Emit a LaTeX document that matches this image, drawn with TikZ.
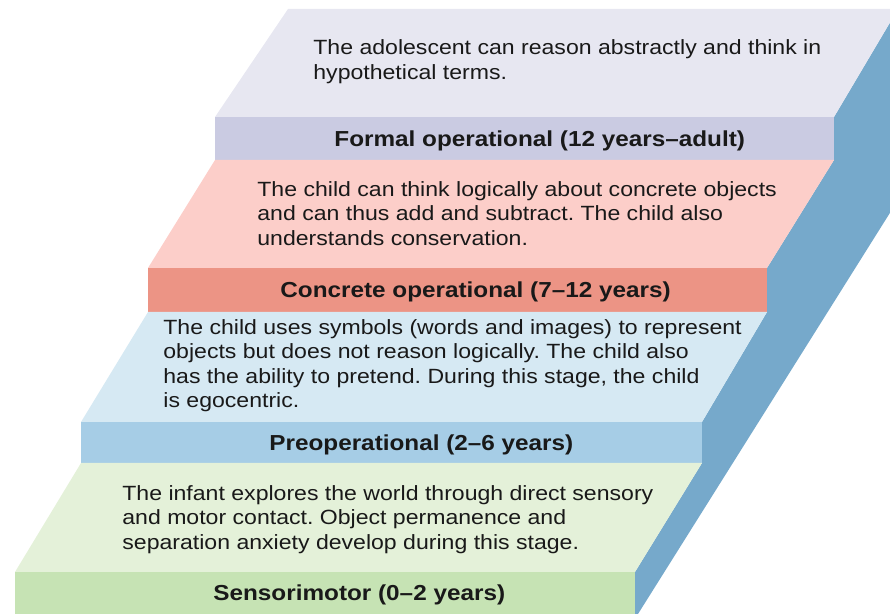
\documentclass[tikz,border=0pt]{standalone}
\usepackage{fontspec}
\setmainfont{Liberation Sans}[FakeStretch=1.12]
\usepackage{tikz}
\usetikzlibrary{positioning}
\usepackage{color}
\frenchspacing

\definecolor{formalface}{RGB}{231,231,241}
\definecolor{formalbar}{RGB}{202,203,226}
\definecolor{concreteface}{RGB}{252,206,201}
\definecolor{concretebar}{RGB}{236,148,133}
\definecolor{preopface}{RGB}{214,233,243}
\definecolor{preopbar}{RGB}{166,205,230}
\definecolor{sensorface}{RGB}{228,241,217}
\definecolor{sensorbar}{RGB}{198,227,180}
\definecolor{sidepanel}{RGB}{118,169,203}
\definecolor{stagetext}{RGB}{25,25,25}

\tikzset{
  stagedesc/.style={anchor=north west, align=left, inner sep=0pt, text=stagetext,
    font=\fontsize{10.3}{12.25}\selectfont},
  stagetitle/.style={anchor=base west, inner sep=0pt, text=stagetext,
    font=\fontsize{10.85}{13}\selectfont\bfseries},
}

\begin{document}
\begin{tikzpicture}[x=0.5pt,y=-0.5pt]
    % frame
    \useasboundingbox (0,0) rectangle (890,614);
    \clip (0,0) rectangle (890,614);

    % side of the stairs
    \fill[sidepanel] (898,9) -- (834,117) -- (834,160) -- (767,268) -- (767,312)
        -- (702,422) -- (702,463) -- (635,572) -- (635,614) -- (638,614)
        -- (1018,9) -- cycle;

    % steps: top face, then front bar
    \foreach \facecol/\barcol/\backl/\backr/\backy/\frontl/\frontr/\fronty/\lowy in {
        formalface/formalbar/288/898/9/215/834/117/160,
        concreteface/concretebar/215/834/160/148/767/268/312,
        preopface/preopbar/148/767/312/81/702/422/463,
        sensorface/sensorbar/81/702/463/15/635/572/614}
    {
      \fill[\facecol] (\backl,\backy) -- (\backr,\backy) -- (\frontr,\fronty) -- (\frontl,\fronty) -- cycle;
      \fill[\barcol] (\frontl,\fronty) rectangle (\frontr,\lowy);
    }

    % labels
    \node[stagedesc] (formaldesc) at (313,39.5)
      {The adolescent can reason abstractly and think in\\hypothetical terms.};
    \node[stagetitle] (formaltitle) at (334,146.5) {Formal operational (12 years–adult)};

    \node[stagedesc] (concretedesc) at (257,181)
      {The child can think logically about concrete objects\\and can thus add and subtract. The child also\\understands conservation.};
    \node[stagetitle] (concretetitle) at (280,298) {Concrete operational (7–12 years)};

    \node[stagedesc] (preopdesc) at (163,319)
      {The child uses symbols (words and images) to represent\\objects but does not reason logically. The child also\\has the ability to pretend. During this stage, the child\\is egocentric.};
    \node[stagetitle] (preoptitle) at (269,450.5) {Preoperational (2–6 years)};

    \node[stagedesc] (sensordesc) at (122,485)
      {The infant explores the world through direct sensory\\and motor contact. Object permanence and\\separation anxiety develop during this stage.};
    \node[stagetitle] (sensortitle) at (213,601) {Sensorimotor (0–2 years)};
\end{tikzpicture}
\end{document}
